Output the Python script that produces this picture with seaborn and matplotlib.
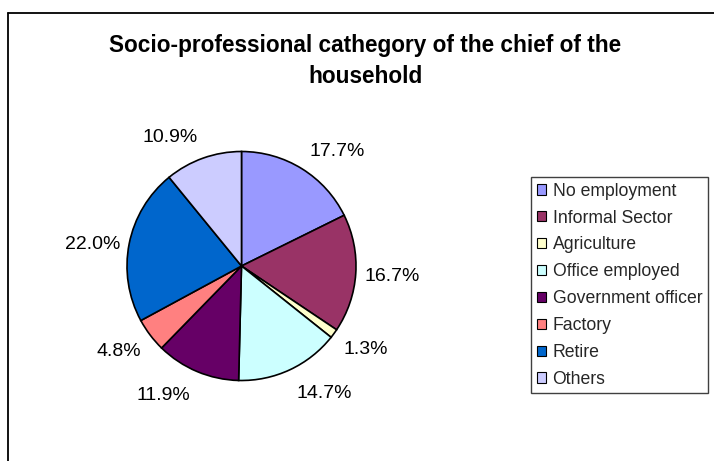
import matplotlib
matplotlib.use("Agg")
import matplotlib.pyplot as plt
from matplotlib.patches import Rectangle
from matplotlib.lines import Line2D
import numpy as np
import seaborn as sns

# Household chief's socio-professional category (percent of households)
categories = ["No employment", "Informal Sector", "Agriculture", "Office employed",
              "Government officer", "Factory", "Retire", "Others"]
shares = [17.7, 16.7, 1.3, 14.7, 11.9, 4.8, 22.0, 10.9]
colors = ["#9999FF", "#993366", "#FFFFCC", "#CCFFFF",
          "#660066", "#FF8080", "#0066CC", "#CCCCFF"]
title = "Socio-professional cathegory of the chief of the\nhousehold"

sns.set_theme(style="white")
plt.rcParams["font.family"] = ["Liberation Sans", "DejaVu Sans"]

W, H = 714, 461
fig = plt.figure(figsize=(W / 100, H / 100), dpi=100)
fig.patch.set_facecolor("white")

# pie placement in pixels (centre and radius)
cx, cy, R = 241.5, 266.0, 114.5
span = 1.6
ax = fig.add_axes([(cx - span * R) / W, (H - cy - span * R) / H,
                   2 * span * R / W, 2 * span * R / H])
wedges, _ = ax.pie(shares, colors=colors, startangle=90, counterclock=False,
                   radius=1, wedgeprops=dict(edgecolor="black", linewidth=1.2))
ax.set_xlim(-span, span)
ax.set_ylim(-span, span)
ax.set_aspect("equal")
ax.axis("off")

# percentage labels just outside each wedge
for w, v in zip(wedges, shares):
    th = np.deg2rad((w.theta1 + w.theta2) / 2)
    c, s = np.cos(th), np.sin(th)
    d = 1.075 + 0.08 * s * s
    lift = np.clip((abs(s) - 0.25) / 0.3, 0, 1) * np.sign(s)
    ax.annotate(f"{v:.1f}%", xy=(d * c, d * s),
                xytext=(0, (lift - 1) * 5.0), textcoords="offset points",
                ha="left" if c > 0 else "right", va="baseline",
                fontsize=14, color="black")

# legend
handles = [Rectangle((0, 0), 1, 1, facecolor=col, edgecolor="black", linewidth=0.8)
           for col in colors]
leg = fig.legend(handles, categories, loc="upper left",
                 bbox_to_anchor=(531 / W, 1 - 177 / H), borderaxespad=0,
                 fontsize=12.7, frameon=True, fancybox=False, edgecolor="#404040",
                 borderpad=0.32, labelspacing=0.56, handlelength=0.52,
                 handleheight=0.52, handletextpad=0.38)
leg.get_frame().set_linewidth(1.0)
leg.get_frame().set_alpha(1)

# title
fig.text(365 / W, 1 - 34 / H, title, ha="center", va="top", fontsize=16.3,
         fontweight="bold", color="black", linespacing=1.42, multialignment="center")

# chart area border
fig.add_artist(Line2D([8 / W, 8 / W], [0, 1 - 13 / H], transform=fig.transFigure,
                      color="black", linewidth=1.3))
fig.add_artist(Line2D([8 / W, 1], [1 - 13 / H, 1 - 13 / H], transform=fig.transFigure,
                      color="black", linewidth=1.3))

fig.savefig("out.png", dpi=100)
